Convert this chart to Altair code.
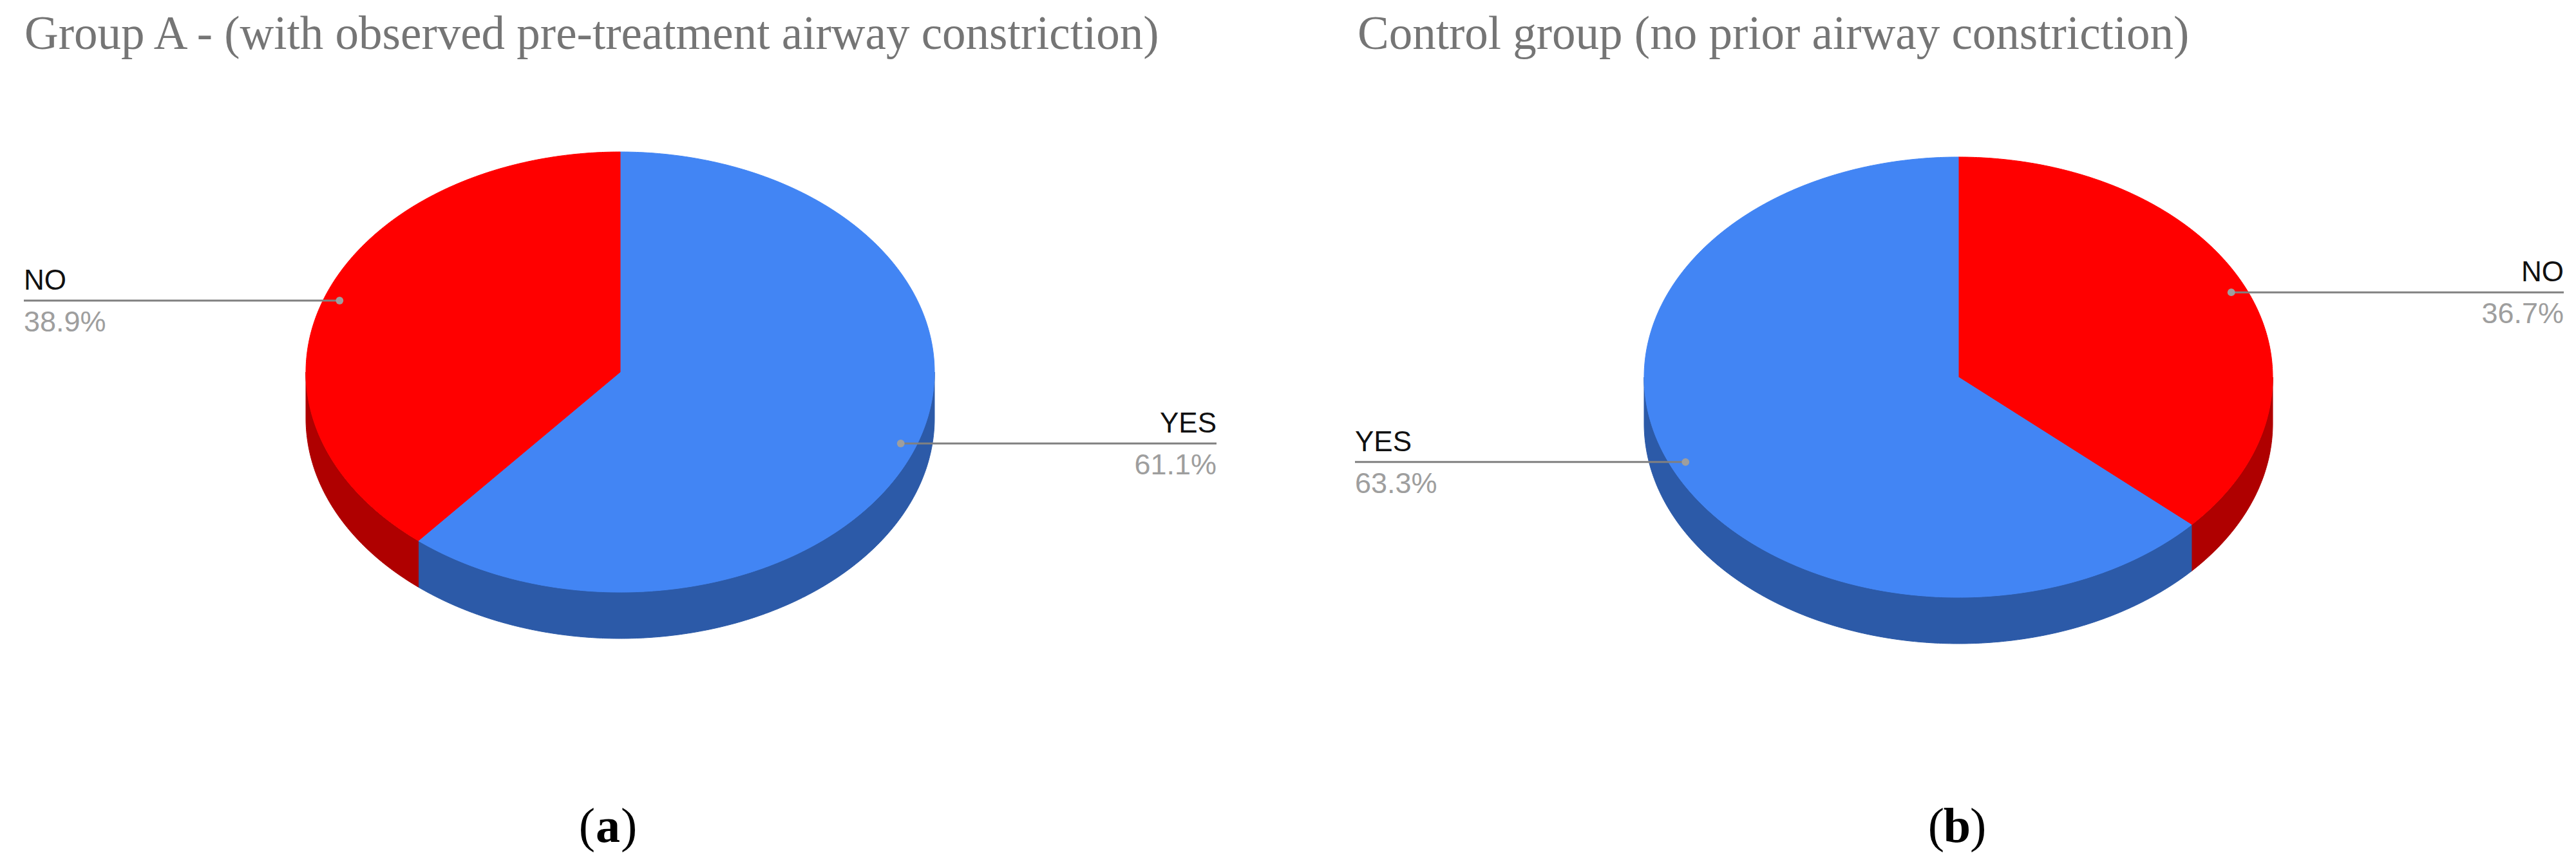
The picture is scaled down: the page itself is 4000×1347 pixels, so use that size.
import altair as alt
import pandas as pd
import numpy as np

# ---------------- data ----------------
panel_titles = [
    "Group A - (with observed pre-treatment airway constriction)",
    "Control group (no prior airway constriction)",
]
panel_letters = ["a", "b"]
# slices in drawing order (clockwise from 12 o'clock)
slice_labels = [["YES", "NO"], ["NO", "YES"]]
slice_values = [[61.1, 38.9], [36.7, 63.3]]

top_colors = {"YES": "#4285F4", "NO": "#FF0000"}
side_colors = {"YES": "#2C5AA8", "NO": "#AF0000"}

# ---------------- layout (pixels in the plot area) ----------------
W, H = 3984, 1331
CENTERS = [(955, 570), (3033, 578)]
RX, RY, DEPTH = 488, 342, 72
LABEL_LEFT = [29, 2096]
LABEL_RIGHT = [1881, 3973]
TITLE_X = [30, 2100]
TITLE_Y = 68
CAPTION_X = [936, 3031]
CAPTION_Y = 1300

top_rows, side_rows, lab_rows = [], [], []
for p in range(2):
    cx, cy = CENTERS[p]
    tot = sum(slice_values[p])
    start = 0.0
    for cat, val in zip(slice_labels[p], slice_values[p]):
        a0 = start
        a1 = start + val / tot * 360.0
        start = a1
        pid = f"{p}-{cat}"
        ts = np.radians(np.linspace(a0, a1, int((a1 - a0) * 2) + 2))
        pts = [(cx, cy)] + [(cx + RX * np.sin(t), cy - RY * np.cos(t)) for t in ts]
        for i, (x, y) in enumerate(pts):
            top_rows.append({"pid": pid, "i": i, "x": x, "y": y, "c": top_colors[cat]})
        s0, s1 = max(a0, 90.0), min(a1, 270.0)
        if s1 > s0:
            ts2 = np.radians(np.linspace(s0, s1, int((s1 - s0) * 2) + 2))
            upper = [(cx + RX * np.sin(t), cy - RY * np.cos(t)) for t in ts2]
            lower = [(x, y + DEPTH) for x, y in upper[::-1]]
            for i, (x, y) in enumerate(upper + lower):
                side_rows.append({"pid": pid, "i": i, "x": x, "y": y, "c": side_colors[cat]})
        mid = np.radians((a0 + a1) / 2)
        dx = cx + 0.95 * RX * np.sin(mid)
        dy = cy - 0.95 * RY * np.cos(mid)
        right = np.sin(mid) > 0
        lab_rows.append({
            "pid": pid, "dotx": dx, "y": dy,
            "endx": LABEL_RIGHT[p] if right else LABEL_LEFT[p],
            "side": "right" if right else "left",
            "name": cat, "pct": f"{val:.1f}%",
        })

top_df = pd.DataFrame(top_rows)
side_df = pd.DataFrame(side_rows)
lab_df = pd.DataFrame(lab_rows)
title_df = pd.DataFrame({"x": TITLE_X, "y": [TITLE_Y, TITLE_Y], "t": panel_titles})
cap_df = pd.DataFrame({"x": CAPTION_X, "y": [CAPTION_Y, CAPTION_Y], "t": panel_letters})

xs = alt.Scale(domain=[0, W], nice=False, zero=False)
ys = alt.Scale(domain=[0, H], reverse=True, nice=False, zero=False)
X = alt.X("x:Q", scale=xs, axis=None)
Y = alt.Y("y:Q", scale=ys, axis=None)


def poly_layer(df):
    return alt.Chart(df).mark_line(filled=True, interpolate="linear-closed", strokeWidth=1).encode(
        x=X, y=Y, order=alt.Order("i:Q"), detail="pid:N",
        color=alt.Color("c:N", scale=None), stroke=alt.Stroke("c:N", scale=None),
    )


sides = poly_layer(side_df)
tops = poly_layer(top_df)

rules = alt.Chart(lab_df).mark_rule(color="#808080", strokeWidth=3).encode(
    x=alt.X("dotx:Q", scale=xs, axis=None), x2="endx:Q", y=Y
)
dots = alt.Chart(lab_df).mark_circle(color="#9E9E9E", opacity=1, size=140).encode(
    x=alt.X("dotx:Q", scale=xs, axis=None), y=Y
)

lab_layers = []
for side, align in [("left", "left"), ("right", "right")]:
    base = alt.Chart(lab_df).transform_filter(alt.datum.side == side)
    lab_layers.append(base.mark_text(align=align, baseline="alphabetic", dy=-17, font="Liberation Sans",
                                     fontSize=44, color="#111111").encode(
        x=alt.X("endx:Q", scale=xs, axis=None), y=Y, text="name:N"))
    lab_layers.append(base.mark_text(align=align, baseline="alphabetic", dy=48, font="Liberation Sans",
                                     fontSize=45, color="#9E9E9E").encode(
        x=alt.X("endx:Q", scale=xs, axis=None), y=Y, text="pct:N"))

titles = alt.Chart(title_df).mark_text(align="left", baseline="alphabetic", font="Liberation Serif",
                                        fontSize=73, color="#757575").encode(x=X, y=Y, text="t:N")

cap_mid = alt.Chart(cap_df).mark_text(align="center", baseline="alphabetic", font="Liberation Serif",
                                       fontSize=76, fontWeight="bold", color="#000000").encode(x=X, y=Y, text="t:N")
cap_open = alt.Chart(cap_df).mark_text(align="right", baseline="alphabetic", font="Liberation Serif",
                                        fontSize=76, color="#000000", dx=-20, text="(").encode(x=X, y=Y)
cap_close = alt.Chart(cap_df).mark_text(align="left", baseline="alphabetic", font="Liberation Serif",
                                         fontSize=76, color="#000000", dx=20, text=")").encode(x=X, y=Y)

chart = alt.layer(
    sides, tops, rules, dots, *lab_layers, titles, cap_mid, cap_open, cap_close
).properties(
    width=W, height=H, autosize=alt.AutoSizeParams(type="fit", contains="padding"), padding=0,
    background="white",
).configure_view(stroke=None)

chart.save("out.html", embed_options={"renderer": "svg", "actions": False})
